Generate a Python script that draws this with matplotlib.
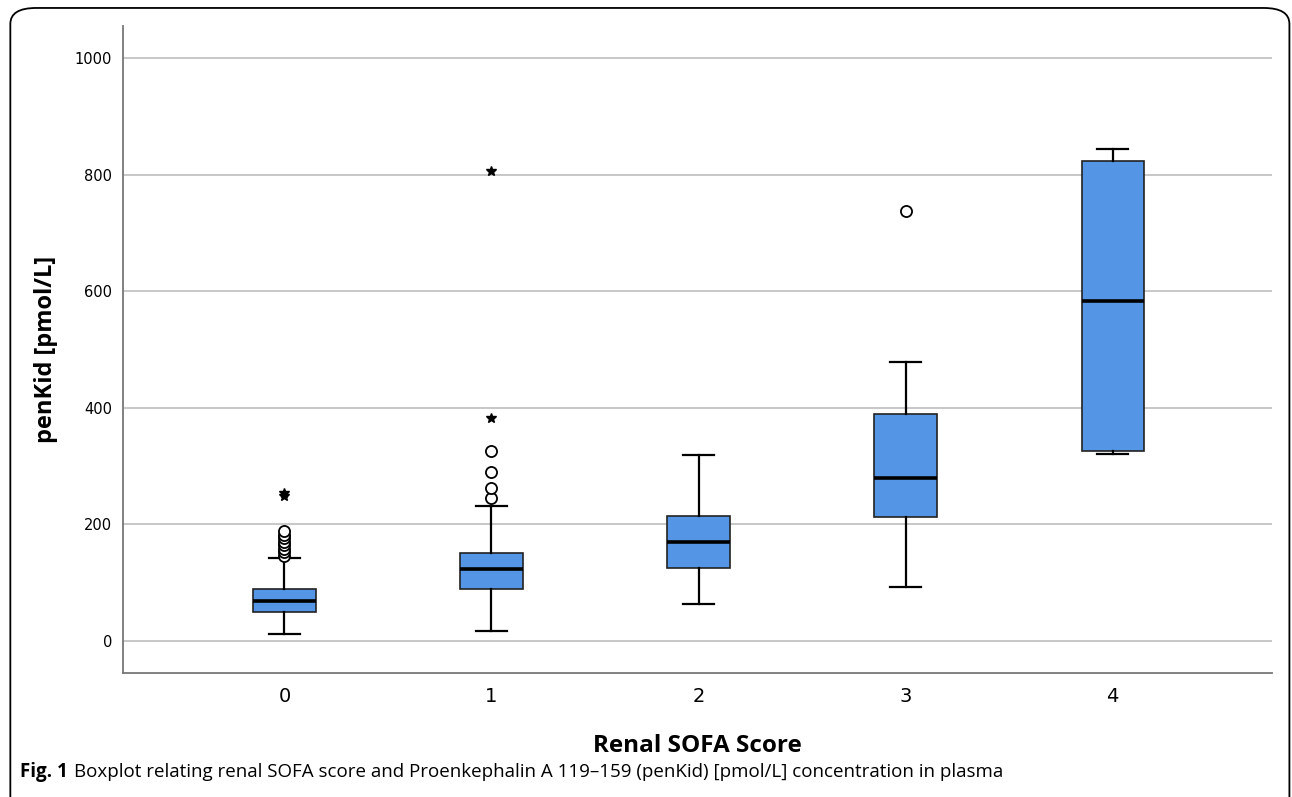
import numpy as np
import matplotlib.pyplot as plt
from matplotlib.patches import FancyBboxPatch

# renal SOFA score groups
scores = ["0", "1", "2", "3", "4"]
whislo = [12, 17, 63, 93, 321]
q1 = [50, 89, 125, 213, 326]
med = [69, 123, 170, 280, 583]
q3 = [89, 151, 215, 389, 823]
whishi = [142, 231, 319, 478, 844]
# circles = outliers, stars = extremes (SPSS style)
outliers = [[146, 152, 158, 164, 170, 176, 182, 188], [245, 262, 290, 326], [], [738], []]
extremes = [[248, 253], [383, 806], [], [], []]

box_color = "#5495E5"

fig = plt.figure(figsize=(12.92, 7.97), dpi=100)
ax = fig.add_axes([0.0952, 0.1556, 0.8893, 0.8118])

stats = []
for i in range(len(scores)):
    stats.append(dict(whislo=whislo[i], q1=q1[i], med=med[i], q3=q3[i],
                      whishi=whishi[i], fliers=outliers[i], label=scores[i]))

pos = np.arange(len(scores))
ax.bxp(stats, positions=pos, widths=0.3, patch_artist=True,
       boxprops=dict(facecolor=box_color, edgecolor="#222222", linewidth=1.2),
       medianprops=dict(color="black", linewidth=2.6),
       whiskerprops=dict(color="black", linewidth=1.6),
       capprops=dict(color="black", linewidth=1.6),
       capwidths=0.15,
       flierprops=dict(marker="o", markersize=8, markerfacecolor="white",
                       markeredgecolor="black", markeredgewidth=1.3),
       zorder=3)

for i, ex in enumerate(extremes):
    if ex:
        ax.plot([pos[i]] * len(ex), ex, linestyle="none", marker="*",
                markersize=7.5, color="black", zorder=4)

ax.set_xlim(-0.78, 4.77)
ax.set_ylim(-55, 1055)
ax.set_yticks([0, 200, 400, 600, 800, 1000])
ax.set_xticks(pos)
ax.set_xticklabels(scores)
ax.yaxis.grid(True, color="#bdbdbd", linewidth=1.2, zorder=0)
ax.set_axisbelow(True)

for s in ["top", "right"]:
    ax.spines[s].set_visible(False)
ax.spines["left"].set_color("#777777")
ax.spines["bottom"].set_color("#777777")
ax.spines["left"].set_linewidth(1.3)
ax.spines["bottom"].set_linewidth(1.3)
ax.tick_params(axis="both", length=0)
ax.tick_params(axis="y", labelsize=10.5, pad=8)
ax.tick_params(axis="x", labelsize=14, pad=10)
for lab in ax.get_xticklabels() + ax.get_yticklabels():
    lab.set_family("DejaVu Sans")

ax.set_ylabel("penKid [pmol/L]", fontsize=17, fontweight="bold",
              family="Open Sans", labelpad=12)
ax.set_xlabel("Renal SOFA Score", fontsize=17.5, fontweight="bold",
              family="Open Sans", labelpad=20)

# caption
fig.text(0.0155, 0.031, "Fig. 1", fontsize=13.5, fontweight="bold",
         family="Open Sans", va="center")
fig.text(0.057, 0.031,
         "Boxplot relating renal SOFA score and Proenkephalin A 119\u2013159 (penKid) [pmol/L] concentration in plasma",
         fontsize=13.5, family="Open Sans", va="center")

# rounded frame around the figure
frame = FancyBboxPatch((0.008, -0.05), 0.99, 1.04,
                       boxstyle="round,pad=0,rounding_size=0.02",
                       transform=fig.transFigure, fill=False,
                       edgecolor="black", linewidth=1.3, clip_on=False)
fig.patches.append(frame)

fig.savefig("out.png", dpi=100)
